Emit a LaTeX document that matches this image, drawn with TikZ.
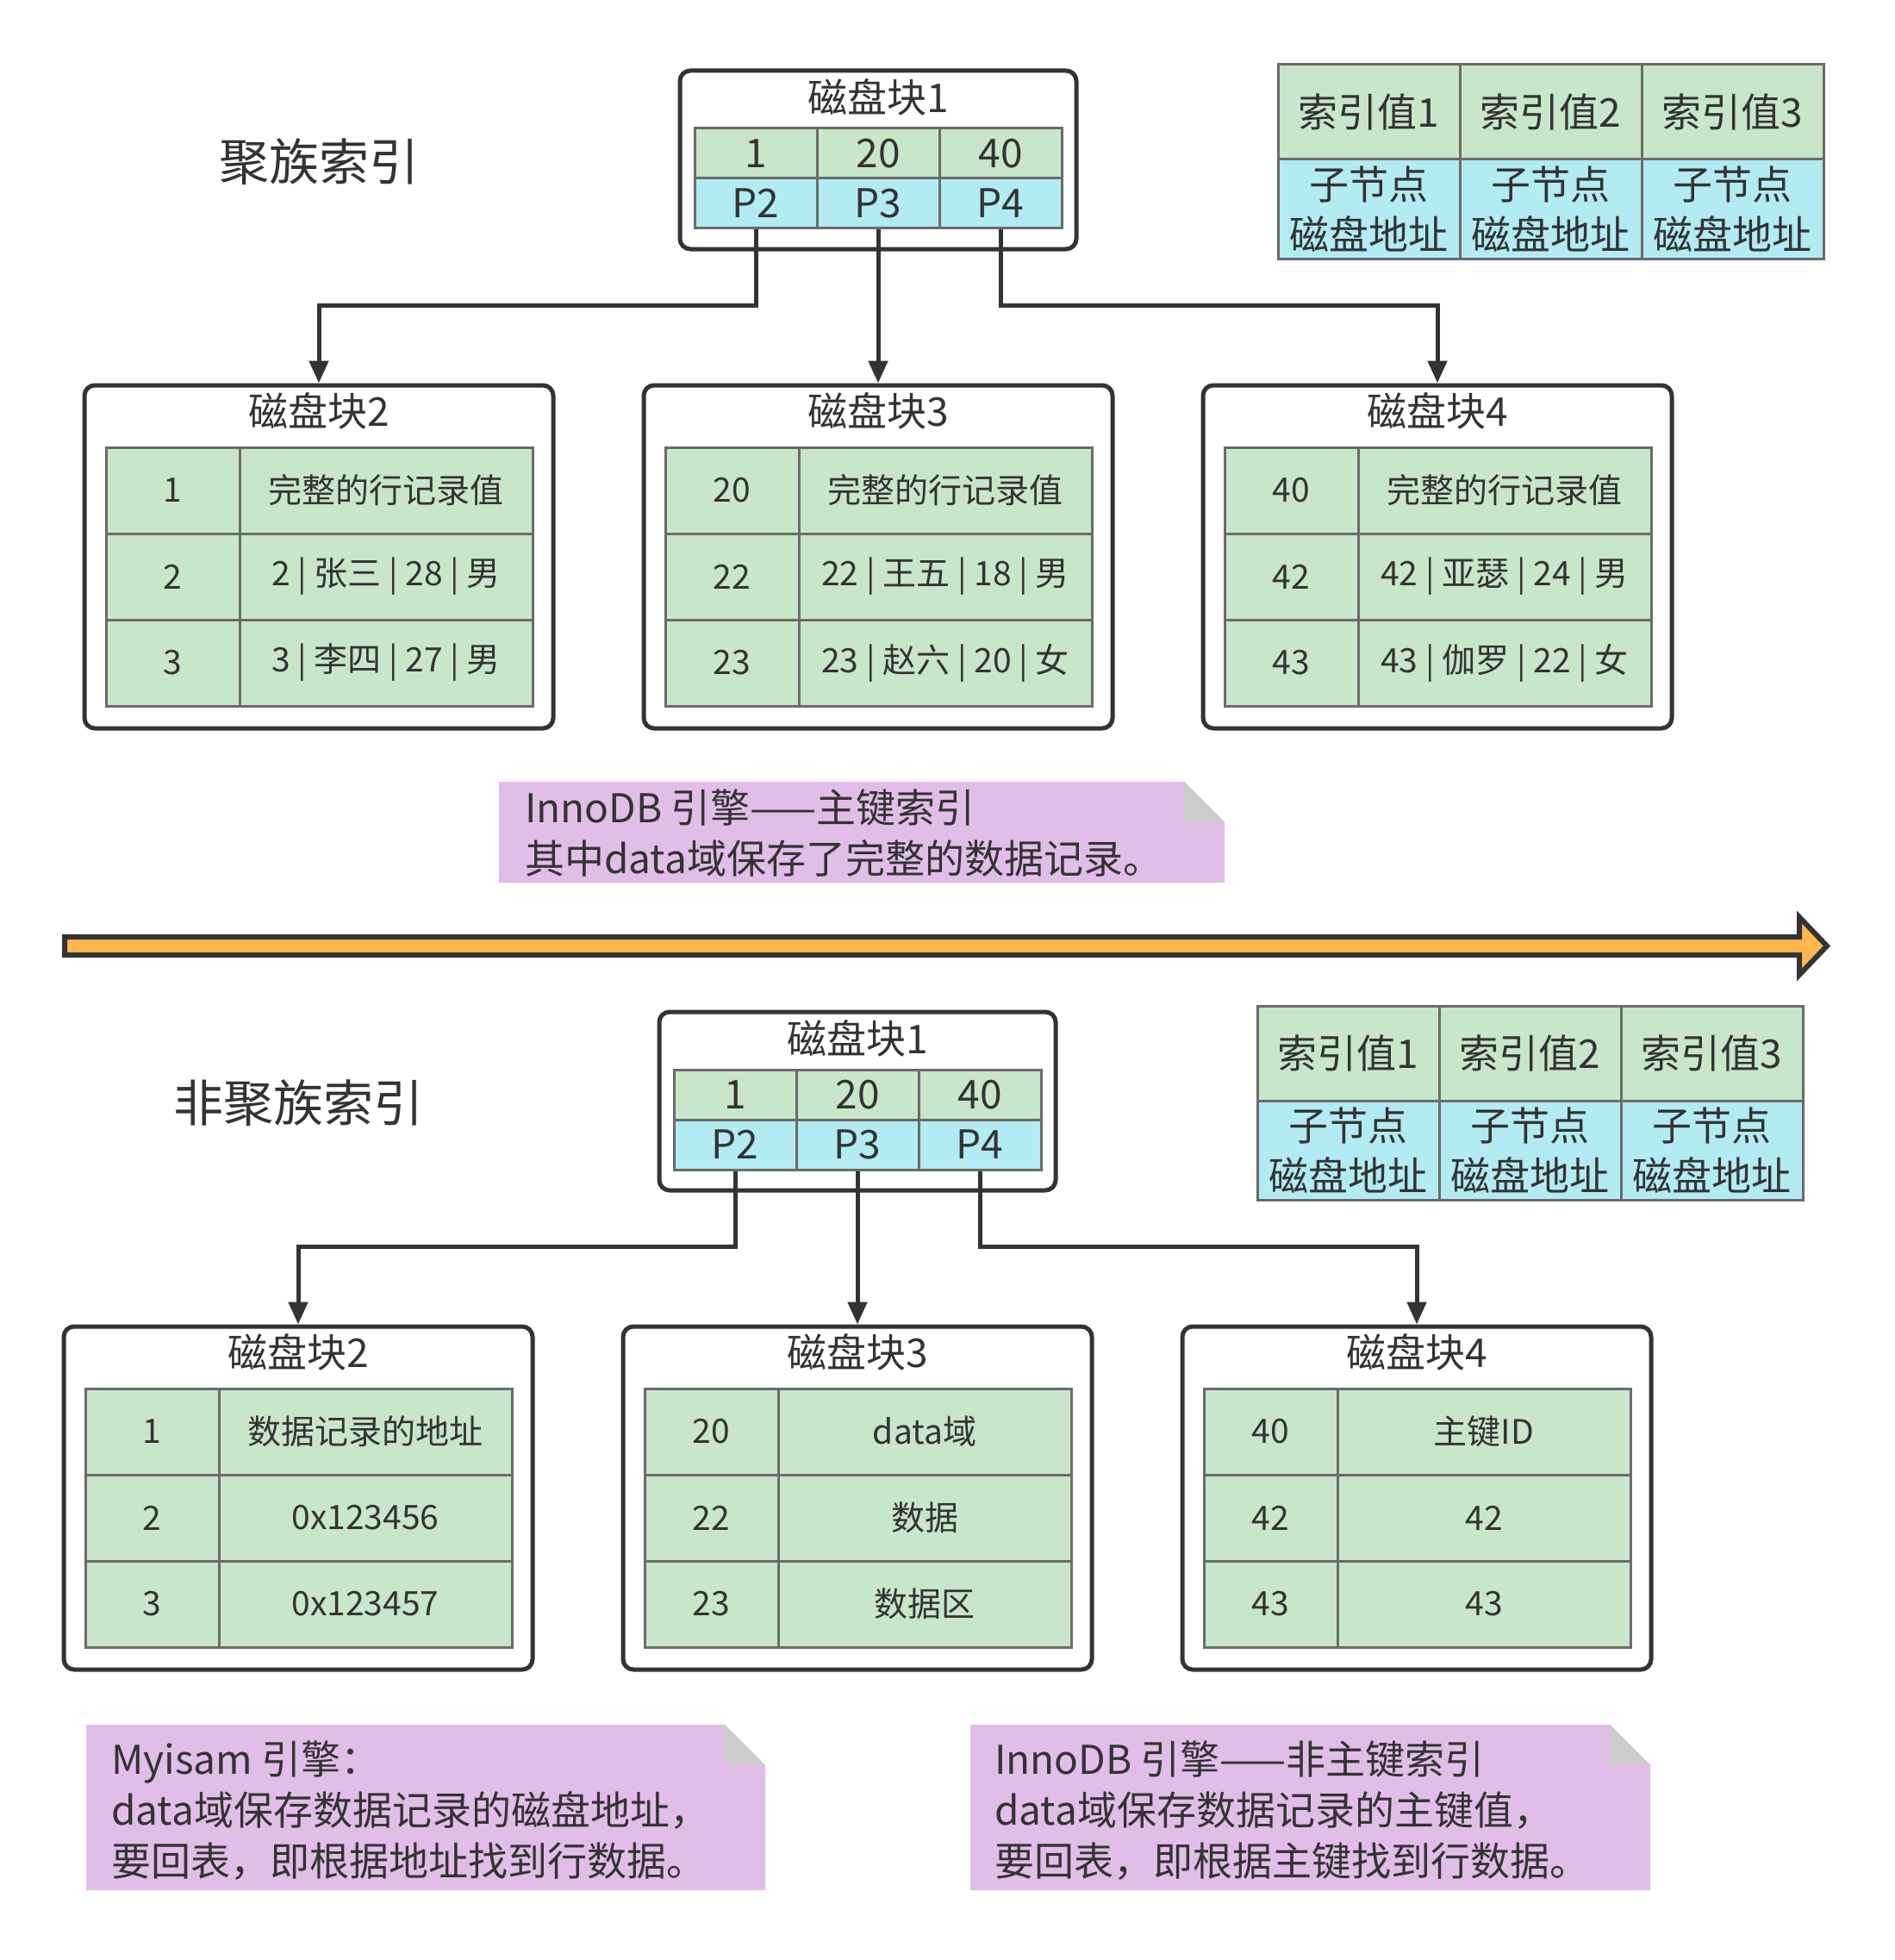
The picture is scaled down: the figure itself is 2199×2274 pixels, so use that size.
\documentclass[tikz,border=0pt]{standalone}
\usepackage{fontspec}
\setmainfont{Noto Sans CJK SC}
\usetikzlibrary{arrows.meta, calc, positioning}

\definecolor{inkgray}{HTML}{333333}
\definecolor{linegray}{HTML}{6B6B6B}
\definecolor{keygreen}{HTML}{C8E6C9}
\definecolor{ptrblue}{HTML}{B2EBF2}
\definecolor{notepink}{HTML}{E1BEE7}
\definecolor{foldgray}{HTML}{CCCCCC}
\definecolor{arroworange}{HTML}{FFB74D}

\tikzset{
	block/.style={draw=inkgray, line width=5pt, rounded corners=12pt, inner sep=0pt},
	cell/.style={draw=linegray, line width=3pt, inner sep=0pt, font=\fontsize{46}{58}\selectfont},
	keycell/.style={cell, fill=keygreen},
	ptrcell/.style={cell, fill=ptrblue},
	rowcell/.style={keycell, minimum height=100, font=\fontsize{39}{48}\selectfont},
	link/.style={draw=inkgray, line width=5pt, -{Triangle[width=22pt, length=26pt]}},
	blocktitle/.style={font=\fontsize{46}{58}\selectfont},
	bigtitle/.style={font=\fontsize{58}{70}\selectfont},
	notetext/.style={anchor=west, align=left, inner sep=0pt, font=\fontsize{46}{59}\selectfont},
}

\begin{document}
	\begin{tikzpicture}[x=1pt, y=-1pt, text=inkgray, line join=miter]
		
		\useasboundingbox (0,0) rectangle (2199,2274);
		\fill[white] (0,0) rectangle (2199,2274);
		
		%========================
		% Top: clustered index
		%========================
		\begin{scope}
			\node[bigtitle] (u-title) at (370,188) {聚族索引};
			
			% root block with keys and pointers
			\node[block, minimum width=460, minimum height=207] (u-b1) at (1019,185.5) {};
			\node[blocktitle] (u-b1t) at (1019,113) {磁盘块1};
			\foreach \k/\p [count=\i] in {1/P2, 20/P3, 40/P4}{
				\node[keycell, minimum width=142, minimum height=58] (u-k\i) at ({806+142*\i-71},178) {\k};
				\node[ptrcell, minimum width=142, minimum height=58] (u-p\i) at ({806+142*\i-71},236) {\p};
			}
			
			% legend
			\foreach \i in {1,2,3}{
				\node[keycell, minimum width=211, minimum height=110] (u-lk\i) at ({1483+211*\i-105.5},130) {索引值\i};
				\node[ptrcell, minimum width=211, minimum height=115, align=center] (u-lp\i) at ({1483+211*\i-105.5},242.5) {子节点\\磁盘地址};
			}
			
			% leaf blocks
			\foreach \j/\cx in {2/370, 3/1019, 4/1668}{
				\node[block, minimum width=544, minimum height=398] (u-b\j) at (\cx,646) {};
				\node[blocktitle] (u-b\j t) at (\cx,477) {磁盘块\j};
			}
			\foreach \n/\rec [count=\r] in {1/完整的行记录值, 2/2 | 张三 | 28 | 男, 3/3 | 李四 | 27 | 男}{
				\node[rowcell, minimum width=155] (u-b2-id\r) at (200.5,{469+100*\r}) {\n};
				\node[rowcell, minimum width=340] (u-b2-rec\r) at (448,{469+100*\r}) {\rec};
			}
			\foreach \n/\rec [count=\r] in {20/完整的行记录值, 22/22 | 王五 | 18 | 男, 23/23 | 赵六 | 20 | 女}{
				\node[rowcell, minimum width=155] (u-b3-id\r) at (849.5,{469+100*\r}) {\n};
				\node[rowcell, minimum width=340] (u-b3-rec\r) at (1097,{469+100*\r}) {\rec};
			}
			\foreach \n/\rec [count=\r] in {40/完整的行记录值, 42/42 | 亚瑟 | 24 | 男, 43/43 | 伽罗 | 22 | 女}{
				\node[rowcell, minimum width=155] (u-b4-id\r) at (1498.5,{469+100*\r}) {\n};
				\node[rowcell, minimum width=340] (u-b4-rec\r) at (1746,{469+100*\r}) {\rec};
			}
			
			% pointers to children
			\coordinate (u-bus) at (0,354);
			\draw[link] (u-p1.south) -- (u-p1.south |- u-bus) -| (u-b2.north);
			\draw[link] (u-p2.south) -- (u-b3.north);
			\draw[link] (u-p3.south) -- (u-p3.south |- u-bus) -| (u-b4.north);
			
			% note
			\fill[notepink] (579,907) -- (1374,907) -- (1421,954) -- (1421,1024) -- (579,1024) -- cycle;
			\fill[foldgray] (1374,907) -- (1374,954) -- (1421,954) -- cycle;
			\node[notetext] (u-note) at (609,967) {InnoDB 引擎——主键索引\\其中data域保存了完整的数据记录。};
		\end{scope}
		
		% separator arrow
		\draw[draw=inkgray, fill=arroworange, line width=6pt]
		(75,1087) -- (2088,1087) -- (2088,1064) -- (2120,1097.5) -- (2088,1131) -- (2088,1108) -- (75,1108) -- cycle;
		
		%========================
		% Bottom: secondary index
		%========================
		\begin{scope}[shift={(-24,1092)}]
			\node[bigtitle] (l-title) at (370,188) {非聚族索引};
			
			% root block with keys and pointers
			\node[block, minimum width=460, minimum height=207] (l-b1) at (1019,185.5) {};
			\node[blocktitle] (l-b1t) at (1019,113) {磁盘块1};
			\foreach \k/\p [count=\i] in {1/P2, 20/P3, 40/P4}{
				\node[keycell, minimum width=142, minimum height=58] (l-k\i) at ({806+142*\i-71},178) {\k};
				\node[ptrcell, minimum width=142, minimum height=58] (l-p\i) at ({806+142*\i-71},236) {\p};
			}
			
			% legend
			\foreach \i in {1,2,3}{
				\node[keycell, minimum width=211, minimum height=110] (l-lk\i) at ({1483+211*\i-105.5},130) {索引值\i};
				\node[ptrcell, minimum width=211, minimum height=115, align=center] (l-lp\i) at ({1483+211*\i-105.5},242.5) {子节点\\磁盘地址};
			}
			
			% leaf blocks
			\foreach \j/\cx in {2/370, 3/1019, 4/1668}{
				\node[block, minimum width=544, minimum height=398] (l-b\j) at (\cx,646) {};
				\node[blocktitle] (l-b\j t) at (\cx,477) {磁盘块\j};
			}
			\foreach \n/\rec [count=\r] in {1/数据记录的地址, 2/0x123456, 3/0x123457}{
				\node[rowcell, minimum width=155] (l-b2-id\r) at (200.5,{469+100*\r}) {\n};
				\node[rowcell, minimum width=340] (l-b2-rec\r) at (448,{469+100*\r}) {\rec};
			}
			\foreach \n/\rec [count=\r] in {20/data域, 22/数据, 23/数据区}{
				\node[rowcell, minimum width=155] (l-b3-id\r) at (849.5,{469+100*\r}) {\n};
				\node[rowcell, minimum width=340] (l-b3-rec\r) at (1097,{469+100*\r}) {\rec};
			}
			\foreach \n/\rec [count=\r] in {40/主键ID, 42/42, 43/43}{
				\node[rowcell, minimum width=155] (l-b4-id\r) at (1498.5,{469+100*\r}) {\n};
				\node[rowcell, minimum width=340] (l-b4-rec\r) at (1746,{469+100*\r}) {\rec};
			}
			
			% pointers to children
			\coordinate (l-bus) at (0,354);
			\draw[link] (l-p1.south) -- (l-p1.south |- l-bus) -| (l-b2.north);
			\draw[link] (l-p2.south) -- (l-b3.north);
			\draw[link] (l-p3.south) -- (l-p3.south |- l-bus) -| (l-b4.north);
		\end{scope}
		
		% notes
		\fill[notepink] (100,2001) -- (841,2001) -- (888,2048) -- (888,2193) -- (100,2193) -- cycle;
		\fill[foldgray] (841,2001) -- (841,2048) -- (888,2048) -- cycle;
		\node[notetext] (l-note-my) at (129,2101) {Myisam 引擎：\\data域保存数据记录的磁盘地址，\\要回表，即根据地址找到行数据。};
		
		\fill[notepink] (1126,2001) -- (1868,2001) -- (1915,2048) -- (1915,2193) -- (1126,2193) -- cycle;
		\fill[foldgray] (1868,2001) -- (1868,2048) -- (1915,2048) -- cycle;
		\node[notetext] (l-note-inno) at (1154,2101) {InnoDB 引擎——非主键索引\\data域保存数据记录的主键值，\\要回表，即根据主键找到行数据。};
		
	\end{tikzpicture}
\end{document}
